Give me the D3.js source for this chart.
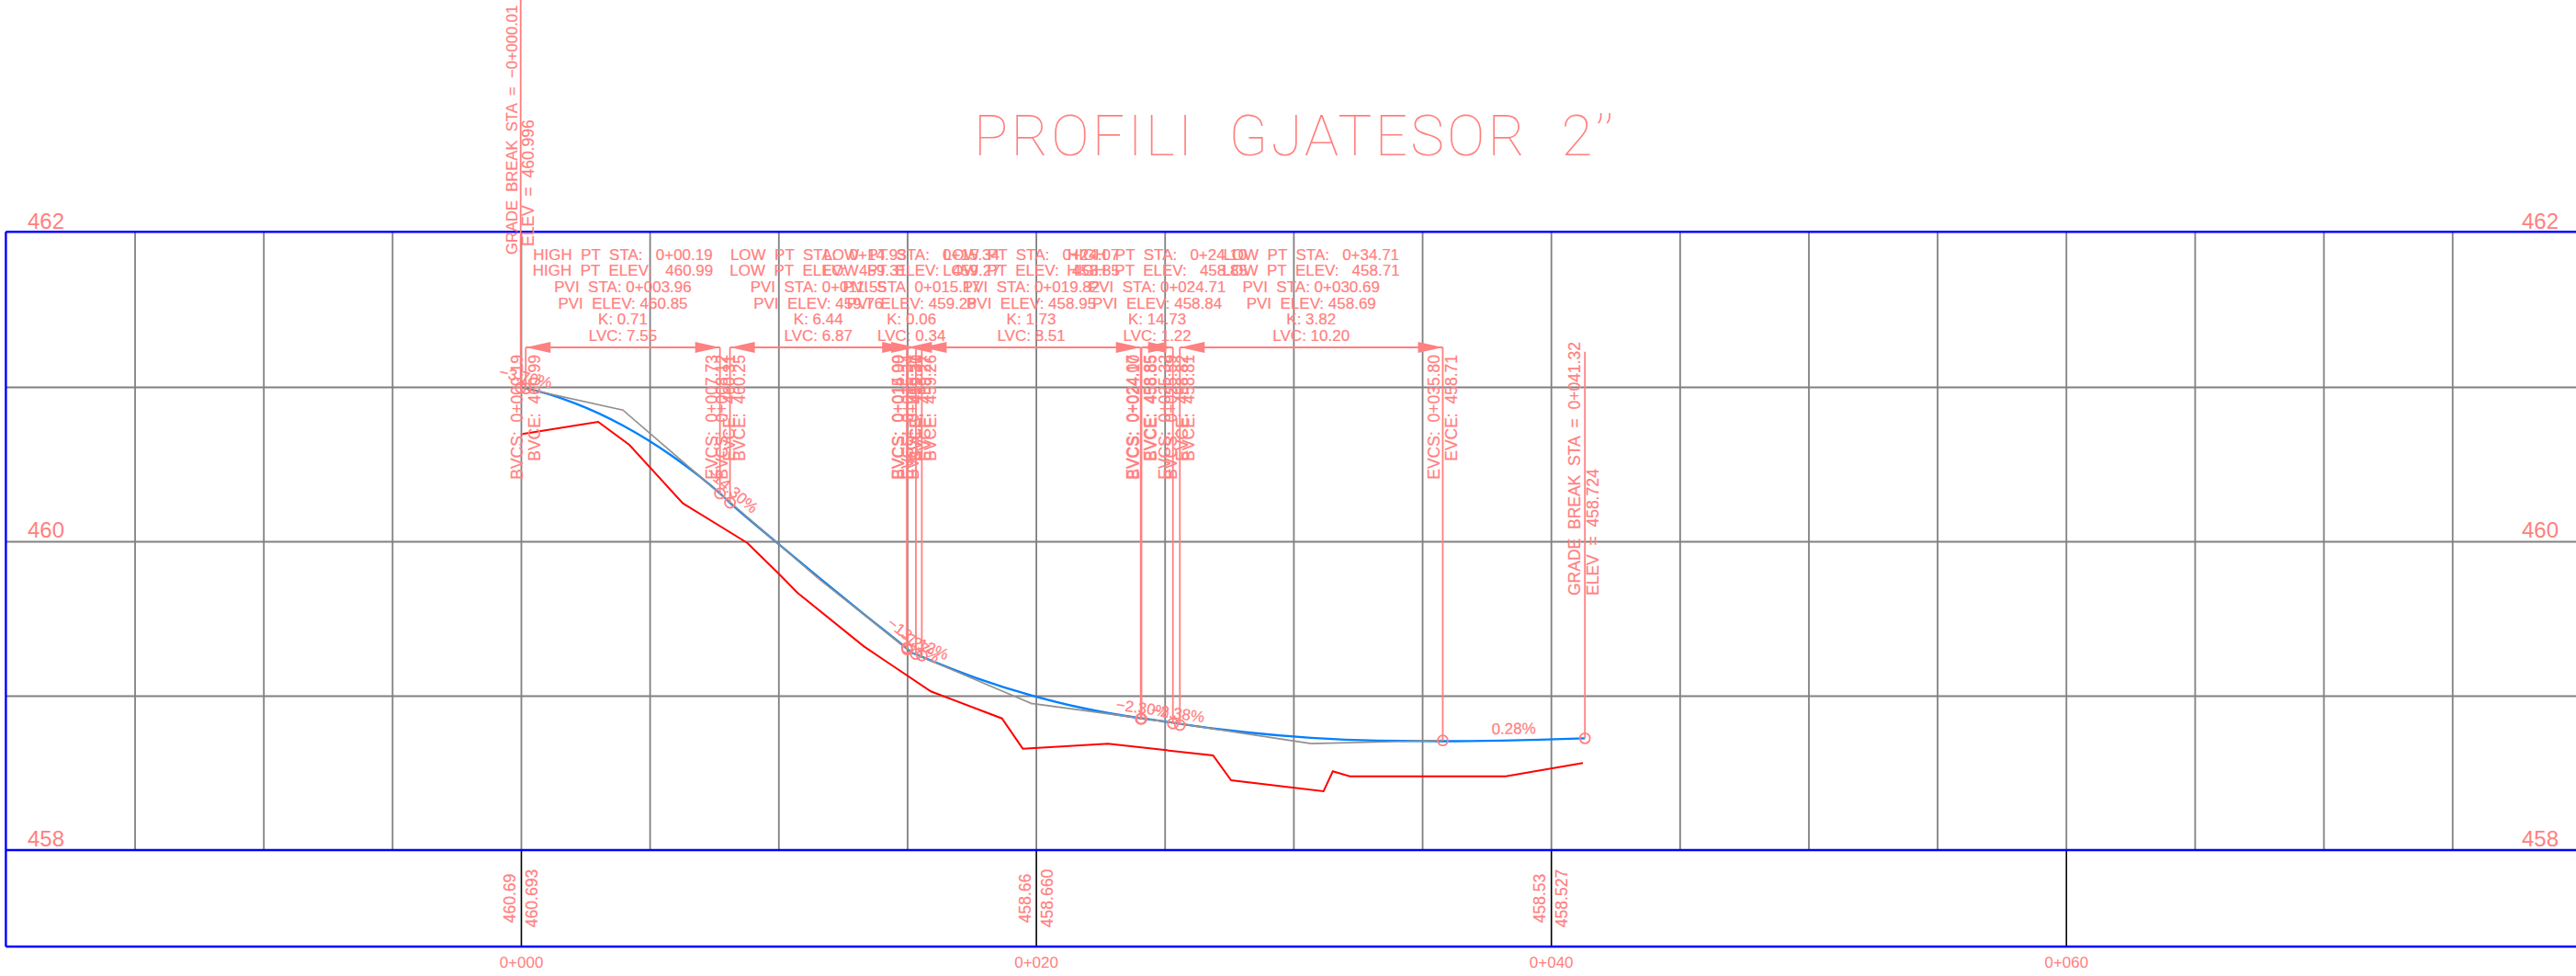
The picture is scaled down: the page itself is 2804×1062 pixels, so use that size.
<!DOCTYPE html>
<html>
<head>
<meta charset="utf-8">
<title>Profili gjatesor 2"</title>
<script src="https://cdn.jsdelivr.net/npm/d3@7"></script>
<style>
  html, body { margin: 0; padding: 0; background: #fff; }
  svg { display: block; }
  text { font-family: "Liberation Sans", Arial, sans-serif; fill: #ff8080; white-space: pre; }
  .heavy { stroke: #ff8080; stroke-width: 0.2px; }
</style>
</head>
<body>
<div id="main"></div>
<script>
// vertical curves, one entry per PVI
const pviStations = [3.96, 11.55, 15.17, 19.82, 24.71, 30.69];
const pviElevs = [460.85, 459.76, 459.28, 458.95, 458.84, 458.69];
const kValues = ["0.71", "6.44", "0.06", "1.73", "14.73", "3.82"];
const lvcValues = ["7.55", "6.87", "0.34", "8.51", "1.22", "10.20"];
const turnKinds = ["HIGH", "LOW", "LOW", "LOW", "HIGH", "LOW"];
const turnStations = ["0+00.19", "0+14.93", "0+15.34", "0+24.07", "0+24.10", "0+34.71"];
const turnElevs = ["460.99", "459.31", "459.27", "458.85", "458.85", "458.71"];
const bvcStations = [0.19, 8.12, 15.00, 15.57, 24.10, 25.59];
const bvcElevs = [460.99, 460.25, 459.30, 459.26, 458.85, 458.81];
const evcStations = [7.73, 14.99, 15.34, 24.07, 25.32, 35.80];
const evcElevs = [460.31, 459.31, 459.27, 458.85, 458.82, 458.71];

// grade breaks at the two ends
const breakStations = [-0.01, 41.32];
const breakElevs = [460.996, 458.724];
const breakStationLabels = ["\u22120+000.01", "0+041.32"];

// straight pieces between curves, in percent
const gradeValues = [-3.70, -14.30, -13.27, -7.12, -2.30, -2.38, 0.28];

// finished grade
const profileStations = [-0.01, 0.19, 2.08, 3.96, 5.85, 7.73, 8.12, 9.83, 11.55, 13.27, 14.99, 15.17, 15.34, 15.57,
  17.69, 19.82, 21.95, 24.07, 24.71, 25.32, 25.59, 28.14, 30.69, 33.24, 35.80, 41.32];
const profileElevs = [460.996, 460.99, 460.895, 460.75, 460.555, 460.31, 460.25, 460.007, 459.769, 459.535, 459.305,
  459.28, 459.268, 459.252, 459.114, 459.002, 458.915, 458.854, 458.84, 458.825, 458.818, 458.763, 458.727, 458.709, 458.705, 458.724];

// existing ground, the red line
const groundStations = [0, 3.00, 4.21, 6.29, 8.79, 10.04, 10.74, 13.31, 14.20, 15.92, 18.68, 19.49, 22.80, 26.88, 27.58,
  31.17, 31.53, 32.19, 38.24, 41.24];
const groundElevs = [460.693, 460.774, 460.625, 460.246, 459.99, 459.786, 459.667, 459.321, 459.22, 459.028, 458.853,
  458.657, 458.689, 458.613, 458.452, 458.381, 458.51, 458.478, 458.478, 458.564];

// bottom band
const bandStations = [0, 20, 40];
const bandExisting = ["460.69", "458.66", "458.53"];
const bandDesign = ["460.693", "458.660", "458.527"];

const elevTicks = [458, 460, 462];
const stationTicks = [0, 20, 40, 60];
const titleText = "PROFILI  GJATESOR  2\u2019\u2019";

const pink = "#ff8080";
const width = 2804, height = 1062;

const x = d3.scaleLinear().domain([-20, 80]).range([6.4, 2809.4]);
const y = d3.scaleLinear().domain([458, 462]).range([925, 253]);
const bandBottom = 1030;
const dimY = 378;

const svg = d3.select("#main").append("svg")
  .attr("width", width)
  .attr("height", height);

// grid
const gridV = svg.append("g")
  .attr("transform", `translate(0,${y(458)})`)
  .call(d3.axisBottom(x).tickValues(d3.range(-15, 80, 5)).tickSize(y(462) - y(458)).tickFormat(""));
const gridH = svg.append("g")
  .attr("transform", `translate(${x(-20)},0)`)
  .call(d3.axisRight(y).tickValues([459, 460, 461]).tickSize(width).tickFormat(""));
[gridV, gridH].forEach(g => {
  g.select(".domain").remove();
  g.selectAll("line").attr("stroke", "#808080").attr("stroke-width", 1.8);
});

// stations under the band
const stationAxis = svg.append("g")
  .attr("transform", `translate(0,${y(458)})`)
  .call(d3.axisBottom(x).tickValues(stationTicks).tickSize(bandBottom - y(458))
    .tickFormat(d => "0+" + String(d).padStart(3, "0")));
stationAxis.select(".domain").remove();
stationAxis.selectAll("line").attr("stroke", "#000").attr("stroke-width", 1.6);
stationAxis.selectAll("text")
  .attr("y", 128).attr("dy", 0)
  .style("font-family", '"Liberation Sans"')
  .style("font-size", "17px")
  .attr("fill", pink);

// frame
[y(462) - 0.7, y(458), bandBottom].forEach(yy => {
  svg.append("line")
    .attr("x1", x(-20)).attr("x2", width)
    .attr("y1", yy).attr("y2", yy)
    .attr("stroke", "#0000ff").attr("stroke-width", 2.4);
});
svg.append("line")
  .attr("x1", x(-20)).attr("x2", x(-20))
  .attr("y1", y(462) - 0.7).attr("y2", bandBottom)
  .attr("stroke", "#0000ff").attr("stroke-width", 2.4);

// elevation labels on both sides
[30, 2745].forEach(labelX => {
  const elevAxis = svg.append("g")
    .attr("transform", `translate(${labelX},0)`)
    .call(d3.axisRight(y).tickValues(elevTicks).tickSize(0).tickFormat(d => d));
  elevAxis.select(".domain").remove();
  elevAxis.selectAll("text")
    .attr("x", 0).attr("y", -5).attr("dy", 0)
    .style("font-family", '"Liberation Sans"')
    .style("font-size", "24px")
    .attr("fill", pink);
});

// title
svg.append("text")
  .attr("x", 1060).attr("y", 169)
  .attr("textLength", 696)
  .attr("lengthAdjust", "spacing")
  .style("font-family", "Roboto")
  .style("font-weight", 100)
  .style("font-size", "62px")
  .text(titleText);

// ground, finished grade, tangents
const line = d3.line().x(d => x(d[0])).y(d => y(d[1]));
svg.append("path")
  .attr("d", line(d3.zip(groundStations, groundElevs)))
  .attr("fill", "none").attr("stroke", "#ff0000").attr("stroke-width", 2);
svg.append("path")
  .attr("d", line.curve(d3.curveMonotoneX)(d3.zip(profileStations, profileElevs)))
  .attr("fill", "none").attr("stroke", "#0080ff").attr("stroke-width", 2.4);
line.curve(d3.curveLinear);

const tangentStations = [breakStations[0], ...pviStations, evcStations[5]];
const tangentElevs = [breakElevs[0], ...pviElevs, evcElevs[5]];
svg.append("path")
  .attr("d", line(d3.zip(tangentStations, tangentElevs)))
  .attr("fill", "none").attr("stroke", "#909090").attr("stroke-width", 1.7);
svg.selectAll(".pvi-dot")
  .data(d3.zip(pviStations, pviElevs))
  .join("circle")
  .attr("class", "pvi-dot")
  .attr("cx", d => x(d[0])).attr("cy", d => y(d[1]))
  .attr("r", 1).attr("fill", pink);

function leader(station, elev, topY) {
  svg.append("line")
    .attr("x1", x(station)).attr("x2", x(station))
    .attr("y1", topY).attr("y2", y(elev))
    .attr("stroke", pink).attr("stroke-width", 1.8);
  svg.append("circle")
    .attr("cx", x(station)).attr("cy", y(elev))
    .attr("r", 5.5)
    .attr("fill", "none").attr("stroke", pink).attr("stroke-width", 1.8);
}

function vtext(px, py, anchor, str, size) {
  svg.append("text")
    .attr("class", "heavy")
    .attr("transform", `translate(${px},${py}) rotate(-90)`)
    .attr("text-anchor", anchor)
    .style("font-size", (size || 17.5) + "px")
    .text(str);
}

const staLabel = s => "0+" + s.toFixed(2).padStart(6, "0");

bvcStations.forEach((s, i) => {
  leader(s, bvcElevs[i], dimY);
  vtext(x(s) - 3, 386, "end", "BVCS:  " + staLabel(s));
  vtext(x(s) + 16, 386, "end", "BVCE:  " + bvcElevs[i].toFixed(2));
});
evcStations.forEach((s, i) => {
  leader(s, evcElevs[i], dimY);
  vtext(x(s) - 3, 386, "end", "EVCS:  " + staLabel(s));
  vtext(x(s) + 16, 386, "end", "EVCE:  " + evcElevs[i].toFixed(2));
});

// grade breaks
leader(breakStations[0], breakElevs[0], 0);
leader(breakStations[1], breakElevs[1], 382.7);
vtext(x(breakStations[0]) - 4, 277, "start", "GRADE  BREAK  STA  =  " + breakStationLabels[0], 16.6);
vtext(x(breakStations[0]) + 14, 268, "start", "ELEV  =  " + breakElevs[0].toFixed(3));
vtext(x(breakStations[1]) - 5.5, 648, "start", "GRADE  BREAK  STA  =  " + breakStationLabels[1]);
vtext(x(breakStations[1]) + 14.5, 648, "start", "ELEV  =  " + breakElevs[1].toFixed(3));

// dimension arrows over each curve
bvcStations.forEach((s, i) => {
  const x0 = x(s), x1 = x(evcStations[i]);
  svg.append("line")
    .attr("x1", x0).attr("x2", x1)
    .attr("y1", dimY).attr("y2", dimY)
    .attr("stroke", pink).attr("stroke-width", 1.8);
  svg.append("path")
    .attr("d", `M${x0},${dimY}l27,-6v12z`)
    .attr("fill", pink);
  svg.append("path")
    .attr("d", `M${x1},${dimY}l-27,-6v12z`)
    .attr("fill", pink);
});

// text block above each curve
pviStations.forEach((s, i) => {
  const rows = [
    `${turnKinds[i]}  PT  STA:   ${turnStations[i]}`,
    `${turnKinds[i]}  PT  ELEV:   ${turnElevs[i]}`,
    `PVI  STA: ${staLabel(s)}`,
    `PVI  ELEV: ${pviElevs[i].toFixed(2)}`,
    `K: ${kValues[i]}`,
    `LVC: ${lvcValues[i]}`
  ];
  rows.forEach((row, r) => {
    svg.append("text")
      .attr("class", "heavy")
      .attr("x", x(s))
      .attr("y", 282.5 + r * 17.7)
      .attr("text-anchor", "middle")
      .style("font-size", "17px")
      .text(row);
  });
});

// grade labels, sitting on the straight pieces
const gradeFromSt = [breakStations[0], ...evcStations];
const gradeFromEl = [breakElevs[0], ...evcElevs];
const gradeToSt = [...bvcStations, breakStations[1]];
const gradeToEl = [...bvcElevs, breakElevs[1]];
const pxPerGrade = (y(458) - y(459)) / (x(1) - x(0)) / 100;
gradeValues.forEach((grade, i) => {
  const ax = x(gradeFromSt[i]), ay = y(gradeFromEl[i]);
  const bx = x(gradeToSt[i]), by = y(gradeToEl[i]);
  const angle = Math.atan(-grade * pxPerGrade) * 180 / Math.PI;
  const label = (grade < 0 ? "\u2212" : "") + Math.abs(grade).toFixed(2) + "%";
  svg.append("text")
    .attr("class", "heavy")
    .attr("transform", `translate(${(ax + bx) / 2},${(ay + by) / 2}) rotate(${angle})`)
    .attr("y", -6)
    .attr("text-anchor", "middle")
    .style("font-size", "17px")
    .text(label);
});

// bottom band values
bandStations.forEach((s, i) => {
  vtext(x(s) - 6, 977.5, "middle", bandExisting[i]);
  vtext(x(s) + 18, 977.5, "middle", bandDesign[i]);
});
</script>
</body>
</html>
